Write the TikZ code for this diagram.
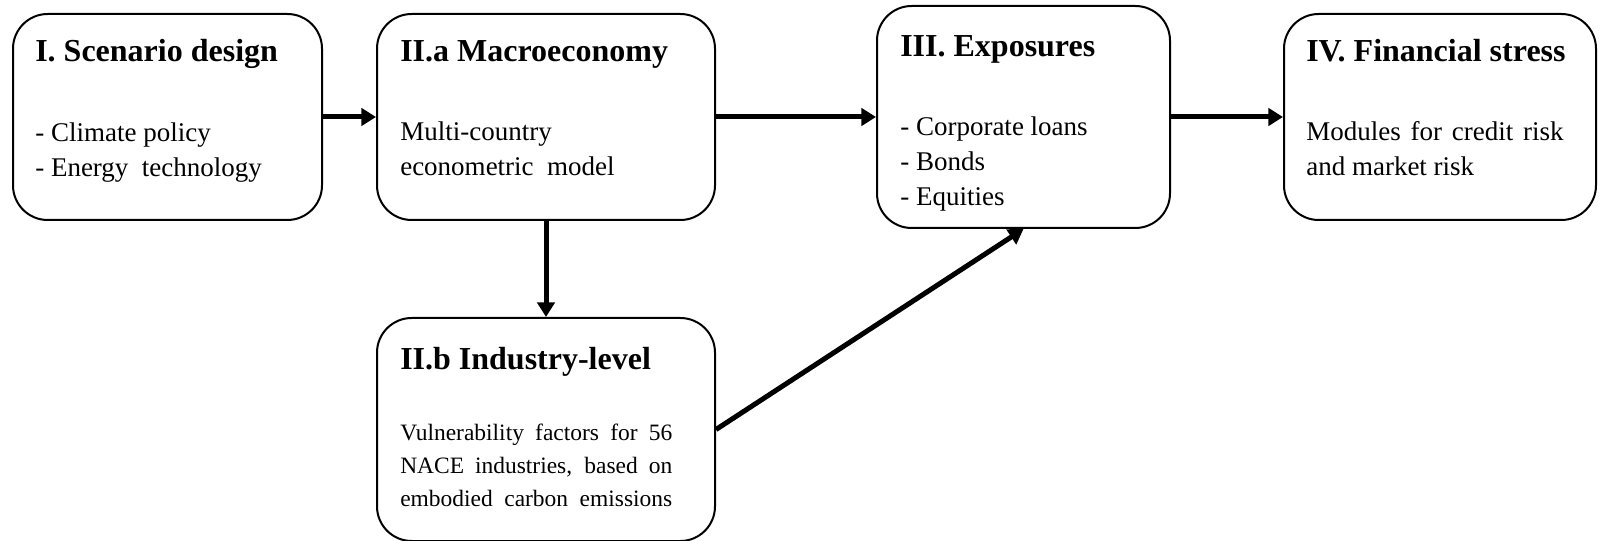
\documentclass[tikz,border=0pt]{standalone}
\usepackage{fontspec}
\setmainfont{Liberation Serif}
\usetikzlibrary{arrows.meta}
\begin{document}
\begin{tikzpicture}[x=0.75pt,y=-0.75pt,
  box/.style={draw, line width=1.5pt, rounded corners=26pt, anchor=north west, inner sep=0pt},
  ttl/.style={anchor=base west, inner sep=0pt, font=\fontsize{24}{28}\selectfont\bfseries},
  bodytext/.style={anchor=base west, inner sep=0pt, font=\fontsize{20.25}{26.25}\selectfont},
  smalltext/.style={anchor=base west, inner sep=0pt, font=\fontsize{17.6}{24.4}\selectfont},
  arr/.style={line width=3.75pt, -{Triangle[length=11pt,width=13pt]}}]
\useasboundingbox (0,0) rectangle (1600,541);
% boxes
\node[box, minimum width=231.75pt, minimum height=154.5pt] (I) at (12,13) {};
\node[box, minimum width=253.5pt, minimum height=154.5pt] (IIa) at (376,13) {};
\node[box, minimum width=219.75pt, minimum height=166.5pt] (III) at (876,5) {};
\node[box, minimum width=234pt, minimum height=154.5pt] (IV) at (1283,13) {};
\node[box, minimum width=253.5pt, minimum height=167.25pt] (IIb) at (376,317) {};
% texts
\node[ttl] (tI) at (35,62) {I. Scenario design};
\node[bodytext] (bI) at (35,142) {\parbox[t]{230pt}{- Climate policy\\- Energy\hspace{5pt} technology}};
\node[ttl] (tIIa) at (400,62) {II.a Macroeconomy};
\node[bodytext] (bIIa) at (400,141) {\parbox[t]{230pt}{Multi-country\\econometric\ \ model}};
\node[ttl] (tIII) at (900,57) {III. Exposures};
\node[bodytext] (bIII) at (900,136) {\parbox[t]{200pt}{- Corporate loans\\- Bonds\\- Equities}};
\node[ttl] (tIV) at (1306,62) {IV. Financial stress};
\node[bodytext] (bIV) at (1306,141) {\parbox[t]{230pt}{\makebox[193pt][s]{Modules for credit risk}\\and market risk}};
\node[ttl] (tIIb) at (400,370) {II.b Industry-level};
\node[smalltext] (bIIb) at (400,441) {\parbox[t]{204pt}{%
  \makebox[204pt][s]{Vulnerability factors for 56}\\
  \makebox[204pt][s]{NACE industries, based on}\\
  \makebox[204pt][s]{embodied carbon emissions}}};
% connectors
\draw[arr] (I) -- (IIa);
\draw[arr] (IIa) -- (III);
\draw[arr] (III) -- (IV);
\draw[arr] (IIa.south) -- (IIb.north);
\draw[arr] (IIb.east) -- (III.south);
\end{tikzpicture}
\end{document}
